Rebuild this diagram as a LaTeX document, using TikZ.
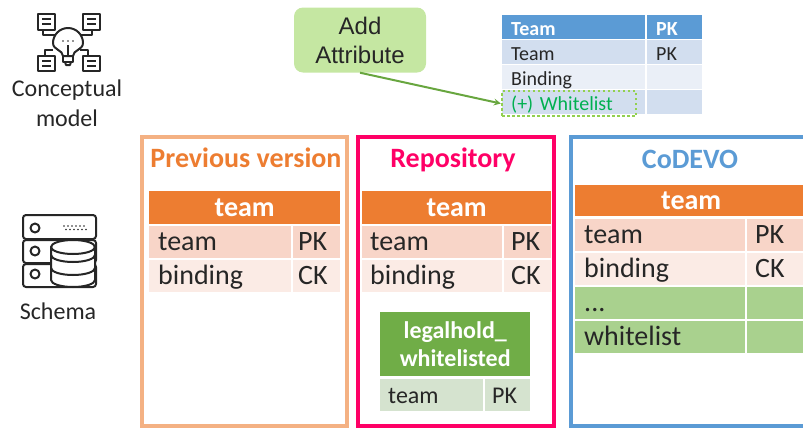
\documentclass[tikz,border=0pt]{standalone}
\usepackage{fontspec}
\setmainfont{Carlito}
\newfontfamily\arialish{Liberation Sans}
\usetikzlibrary{matrix}
\usetikzlibrary{positioning}
\usetikzlibrary{arrows}
\newcommand{\fsz}[1]{\fontsize{#1}{#1}\selectfont}
\definecolor{hdorange}{HTML}{ED7D31}
\definecolor{frameorange}{HTML}{F4B183}
\definecolor{rowa}{HTML}{F8D5C8}
\definecolor{rowb}{HTML}{FBEBE5}
\definecolor{framepink}{HTML}{FF0066}
\definecolor{frameblue}{HTML}{5B9BD5}
\definecolor{hdgreen}{HTML}{70AD47}
\definecolor{rowgreen}{HTML}{A9D18E}
\definecolor{rowpale}{HTML}{D5E3CF}
\definecolor{addgreen}{HTML}{C5E7A2}
\definecolor{bluea}{HTML}{D2DEEF}
\definecolor{blueb}{HTML}{EAEFF7}
\definecolor{txtgreen}{HTML}{00B050}
\definecolor{dotgreen}{HTML}{92D050}
\definecolor{arrowgreen}{HTML}{68A63F}
\tikzset{
  frame box/.style={draw,line width=4pt,minimum height=289pt,inner sep=0pt},
  frame title/.style={font=\fsz{28}\bfseries},
  side label/.style={font=\fsz{24},align=center,text=black!85},
  head cell/.style={fill=hdorange,text=white,font=\fsz{28}\bfseries,inner sep=0pt,align=center},
  schema table/.style={matrix of nodes,anchor=north west,inner sep=0pt,row sep=2pt,column sep=2pt,
    nodes in empty cells,
    nodes={inner sep=0pt,minimum height=32pt,text height=21pt,text depth=4pt,font=\fsz{28},text=black!85,align=left}},
  icon/.style={line width=2pt,black!85,line join=round}
}
\begin{document}
\begin{tikzpicture}[x=1pt,y=-1pt]
  \useasboundingbox (0,0) rectangle (803,429);

  % frames
  \node (prevframe) [frame box,draw=frameorange,minimum width=205pt] at (244.5,281.5) {};
  \node (repoframe) [frame box,draw=framepink,minimum width=196pt] at (456,281.5) {};
  \node (codevoframe) [frame box,draw=frameblue,minimum width=260pt] at (701,281.5) {};

  \node (prevtitle) [frame title,text=hdorange] at (246,158) {Previous version};
  \node (repotitle) [frame title,text=framepink] at (453,160) {Repository};
  \node (codevotitle) [frame title,text=frameblue] at (690,159) {CoDEVO};

  % previous version
  \matrix (prev) [schema table,at={(149,226)},
    column 1/.style={nodes={text width=124pt,inner xsep=9pt,minimum width=142pt}},
    column 2/.style={nodes={text width=37pt,inner xsep=5pt,minimum width=47pt}},
    row 1/.style={nodes={fill=rowa}},row 2/.style={nodes={fill=rowb}}]
  {
    team & PK \\
    binding & CK \\};
  \node (prevhead) [head cell,minimum width=191pt,minimum height=33pt,above=2pt of prev.north] {team};

  % repository
  \matrix (repo) [schema table,at={(362,226)},
    column 1/.style={nodes={text width=124pt,inner xsep=8pt,minimum width=140pt}},
    column 2/.style={nodes={text width=33pt,inner xsep=7pt,minimum width=47pt}},
    row 1/.style={nodes={fill=rowa}},row 2/.style={nodes={fill=rowb}}]
  {
    team & PK \\
    binding & CK \\};
  \node (repohead) [head cell,minimum width=189pt,minimum height=33pt,above=2pt of repo.north] {team};

  \matrix (legal) [schema table,at={(380,379)},
    nodes={font=\fsz{24},fill=rowpale},
    column 1/.style={nodes={text width=87pt,inner xsep=8pt,minimum width=103pt}},
    column 2/.style={nodes={text width=31pt,inner xsep=7pt,minimum width=45pt}}]
  {
    team & PK \\};
  \node (legalhead) [head cell,fill=hdgreen,font=\fsz{24}\bfseries,minimum width=150pt,minimum height=64pt,
    above=3pt of legal.north] {legalhold\_\\[4pt]whitelisted};

  % codevo
  \matrix (codevo) [schema table,at={(575,219)},
    column 1/.style={nodes={text width=152pt,inner xsep=9pt,minimum width=170pt}},
    column 2/.style={nodes={text width=44pt,inner xsep=8pt,minimum width=60pt}},
    row 1/.style={nodes={fill=rowa}},row 2/.style={nodes={fill=rowb}},
    row 3/.style={nodes={fill=rowgreen}},row 4/.style={nodes={fill=rowgreen}}]
  {
    team & PK \\
    binding & CK \\
    ... & \\
    whitelist & \\};
  \node (codevohead) [head cell,minimum width=232pt,minimum height=31pt,above=3pt of codevo.north] {team};

  % conceptual table
  \matrix (concept) [schema table,at={(502,15)},row sep=1pt,
    nodes={font=\fsz{20},minimum height=24pt,text height=18pt,text depth=2pt},
    column 1/.style={nodes={text width=125pt,inner xsep=9pt,minimum width=143pt}},
    column 2/.style={nodes={text width=37pt,inner xsep=9pt,minimum width=55pt}},
    row 1/.style={nodes={fill=frameblue,text=white,font=\fsz{20}\bfseries}},
    row 2/.style={nodes={fill=bluea}},row 3/.style={nodes={fill=blueb}},row 4/.style={nodes={fill=bluea}}]
  {
    Team & PK \\
    Team & PK \\
    Binding & \\
    |[text=txtgreen]| (+) Whitelist & \\};
  \node (whitebox) [draw=dotgreen,line width=2.5pt,dash pattern=on 2.5pt off 2.5pt,minimum width=134pt,minimum height=25pt,inner sep=0pt] at (569,103.5) {};

  \node (addattr) [fill=addgreen,rounded corners=9pt,minimum width=132pt,minimum height=65pt,align=center,
    inner sep=0pt,font=\arialish\fsz{24},text=black!85] at (360,40) {Add\\[5pt]Attribute};
  \draw[-stealth,line width=2pt,arrowgreen] (addattr.south) -- (whitebox.west);

  % side labels
  \node (conceptlabel) [side label] at (67,103) {Conceptual\\[6pt]model};
  \node (schemalabel) [side label] at (58,311) {Schema};

  % conceptual icon
  \begin{scope}[icon]
    \foreach \dx in {38,83} {
      \draw (\dx,14) rectangle ++(17,16);
      \draw (\dx+4,19) -- ++(9,0) (\dx+4,24) -- ++(9,0);
      \draw (\dx,56) rectangle ++(17,15);
      \draw (\dx+4,61) -- ++(9,0) (\dx+4,66) -- ++(9,0);
    }
    \draw (43,30) -- (43,35) -- (55,35);
    \draw (92,30) -- (92,35) -- (81,35);
    \draw (45,56) -- (45,50) -- (53,50);
    \draw (88,56) -- (88,50) -- (80,50);
    \draw (63,56) .. controls (63,50) and (53,50) .. (53,43) arc (180:360:15) .. controls (83,50) and (73,50) .. (73,56) -- cycle;
    \draw (63,56) rectangle (73,62);
    \draw (65,62) -- (66,65) -- (70,65) -- (71,62);
    \draw (68,45) -- (68,56);
    \foreach \dx in {63,68,73} \fill (\dx,41) circle (0.9pt);
  \end{scope}

  % schema icon
  \begin{scope}[icon]
    \draw[rounded corners=3pt] (23,215) rectangle (96,239);
    \draw[rounded corners=3pt] (23,240) rectangle (96,263);
    \draw[rounded corners=3pt] (23,264) rectangle (96,287);
    \foreach \dy in {228,251,274} \draw (35,\dy) circle (4.5pt);
    \foreach \dx in {64,68,...,84} \fill (\dx,226) circle (0.8pt) (\dx+2,229.5) circle (0.8pt);
    \draw[fill=white] (51,247) -- (51,280) arc (180:0:22 and 7) -- (95,247) -- cycle;
    \draw[fill=white] (73,247) ellipse (22 and 7);
    \draw (51,255) arc (180:0:22 and 7);
    \draw (51,268) arc (180:0:22 and 7);
  \end{scope}
\end{tikzpicture}
\end{document}
